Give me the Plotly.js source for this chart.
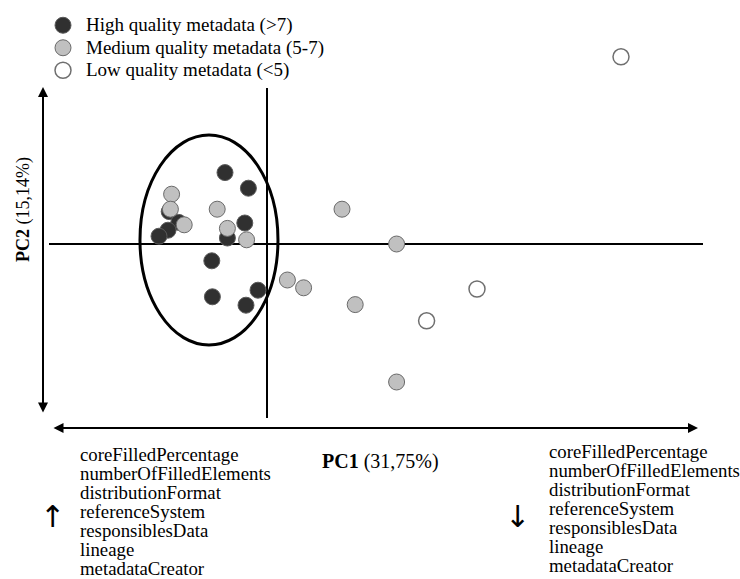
<!DOCTYPE html>
<html>
<head>
<meta charset="utf-8">
<script src="https://cdn.plot.ly/plotly-3.0.1.min.js"></script>
<style>html,body{margin:0;padding:0;background:#fff;}#chart{width:740px;height:579px;}</style>
</head>
<body>
<div id="chart"></div>
<script>
// ---- Data (PC scores) ----
const highPC1   = [-0.70, -0.31, -1.63, -1.47, -1.65, -1.80, -0.37, -0.66, -0.92, -0.91, -0.15, -0.35];
const highPC2   = [ 1.19,  0.93,  0.54,  0.36,  0.23,  0.13,  0.35,  0.10, -0.28, -0.88, -0.77, -1.02];
const mediumPC1 = [-1.59, -1.61, -1.38, -0.83, -0.66, -0.34, 1.25, 2.16, 0.34, 0.61, 1.47, 2.16];
const mediumPC2 = [ 0.83,  0.58,  0.32,  0.58,  0.26,  0.07, 0.58, 0.00, -0.60, -0.73, -1.01, -2.30];
const lowPC1    = [3.50, 2.66, 5.90];
const lowPC2    = [-0.75, -1.28, 3.12];

const seriesNames = ['High quality metadata (&gt;7)', 'Medium quality metadata (5-7)', 'Low quality metadata (&lt;5)'];
const variableNames = ['coreFilledPercentage', 'numberOfFilledElements', 'distributionFormat',
  'referenceSystem', 'responsiblesData', 'lineage', 'metadataCreator'];
const pc1Label = '<b>PC1</b> (31,75%)';
const pc2Label = '<b>PC2</b> (15,14%)';
// confidence ellipse of the high quality group (PC1 / PC2 extents)
const ellipsePC1 = [-2.117, 0.183];
const ellipsePC2 = [-1.683, 1.817];

// ---- Layout helpers ----
const W = 740, H = 579;
const FONT = 'Liberation Serif';
const px = x => x / W;
const py = y => 1 - y / H;

function mk(x, y, name, fill, line, lw) {
  return {
    type: 'scatter', mode: 'markers', x: x, y: y, name: '<span style="font-size:19px">' + name + '</span>',
    marker: {size: 16, color: fill, line: {color: line, width: lw}},
    hoverinfo: 'x+y'
  };
}

const traces = [
  mk(highPC1, highPC2, seriesNames[0], '#303030', '#5a5a5a', 1),
  mk(mediumPC1, mediumPC2, seriesNames[1], '#c0c0c0', '#6a6a6a', 1),
  mk(lowPC1, lowPC2, seriesNames[2], '#ffffff', '#6f6f6f', 1.5)
];

const annotations = [];
// PC axis double arrows
annotations.push({xref: 'paper', yref: 'paper', x: px(43), y: py(87), ax: 0, ay: 327,
  showarrow: true, arrowside: 'end+start', arrowhead: 2, startarrowhead: 2, arrowsize: 1, startarrowsize: 1, arrowwidth: 2, arrowcolor: '#000', text: ''});
annotations.push({xref: 'paper', yref: 'paper', x: px(698), y: py(428), ax: -646, ay: 0,
  showarrow: true, arrowside: 'end+start', arrowhead: 2, startarrowhead: 2, arrowsize: 1, startarrowsize: 1, arrowwidth: 2, arrowcolor: '#000', text: ''});
// axis titles
annotations.push({xref: 'paper', yref: 'paper', x: px(380), y: py(462), text: pc1Label, showarrow: false,
  font: {family: FONT, size: 20, color: '#000'}, xanchor: 'center', yanchor: 'middle'});
annotations.push({xref: 'paper', yref: 'paper', x: px(24), y: py(210), text: pc2Label, showarrow: false, textangle: -90,
  font: {family: FONT, size: 18, color: '#000'}, xanchor: 'center', yanchor: 'middle'});
// variable lists
const leftY0 = 454, rightY0 = 451, step = 19.1;
variableNames.forEach((v, i) => {
  annotations.push({xref: 'paper', yref: 'paper', x: px(79), y: py(leftY0 + i * step), text: v, showarrow: false,
    font: {family: FONT, size: 18.8, color: '#000'}, xanchor: 'left', yanchor: 'middle', borderpad: 0});
  annotations.push({xref: 'paper', yref: 'paper', x: px(548), y: py(rightY0 + i * step), text: v, showarrow: false,
    font: {family: FONT, size: 18.8, color: '#000'}, xanchor: 'left', yanchor: 'middle', borderpad: 0});
});
annotations.push({xref: 'paper', yref: 'paper', x: px(52), y: py(516), text: '↑', showarrow: false,
  font: {family: 'DejaVu Sans', size: 30, color: '#000'}, xanchor: 'center', yanchor: 'middle'});
annotations.push({xref: 'paper', yref: 'paper', x: px(517), y: py(516), text: '↓', showarrow: false,
  font: {family: 'DejaVu Sans', size: 30, color: '#000'}, xanchor: 'center', yanchor: 'middle'});

const shapes = [
  // centre cross
  {type: 'line', xref: 'x', yref: 'paper', x0: 0, x1: 0, y0: py(88), y1: py(418), line: {color: '#000', width: 2}, layer: 'below'},
  {type: 'line', xref: 'paper', yref: 'y', x0: px(49), x1: px(703), y0: 0, y1: 0, line: {color: '#000', width: 2}, layer: 'below'},
  // ellipse
  {type: 'circle', xref: 'x', yref: 'y', x0: ellipsePC1[0], x1: ellipsePC1[1], y0: ellipsePC2[0], y1: ellipsePC2[1],
    line: {color: '#000', width: 3}, layer: 'below'}
];

const layout = {
  width: W, height: H,
  margin: {l: 0, r: 0, t: 0, b: 0},
  paper_bgcolor: '#fff', plot_bgcolor: '#fff',
  xaxis: {range: [-267 / 60, (W - 267) / 60], visible: false, fixedrange: true},
  yaxis: {range: [(244 - H) / 60, 244 / 60], visible: false, fixedrange: true},
  showlegend: true,
  legend: {x: px(40), y: py(9), xanchor: 'left', yanchor: 'top', bgcolor: 'rgba(0,0,0,0)', itemwidth: 36,
    font: {family: FONT, size: 15, color: '#000'}, itemclick: false, itemdoubleclick: false},
  shapes: shapes,
  annotations: annotations,
  font: {family: FONT, color: '#000'}
};

Plotly.newPlot('chart', traces, layout, {displayModeBar: false, staticPlot: true});
</script>
</body>
</html>
